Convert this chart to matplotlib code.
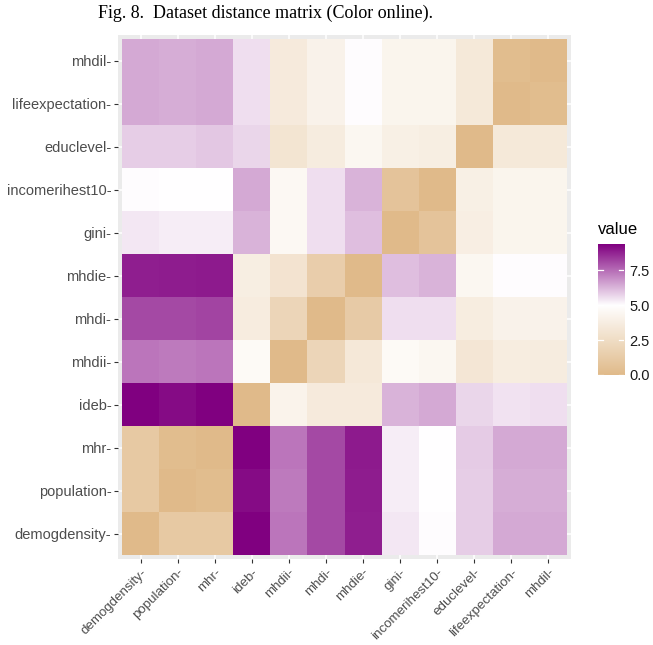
import numpy as np
import matplotlib
matplotlib.use("Agg")
import matplotlib.pyplot as plt
from matplotlib.colors import LinearSegmentedColormap, Normalize

labels = ["demogdensity", "population", "mhr", "ideb", "mhdii", "mhdi",
          "mhdie", "gini", "incomerihest10", "educlevel", "lifeexpectation", "mhdil"]

# one row per y-label (same column order as labels)
row_demogdensity   = [0.0, 1.1, 1.1, 9.4, 7.36, 8.14, 8.87, 5.43, 5.05, 5.85, 6.47, 6.47]
row_population     = [1.1, 0.0, 0.2, 9.2, 7.30, 8.14, 8.90, 5.30, 5.00, 5.85, 6.40, 6.40]
row_mhr            = [1.1, 0.2, 0.0, 9.4, 7.36, 8.14, 8.95, 5.30, 5.00, 5.90, 6.47, 6.47]
row_ideb           = [9.4, 9.2, 9.4, 0.0, 4.15, 3.50, 3.50, 6.30, 6.47, 5.70, 5.50, 5.55]
row_mhdii          = [7.36, 7.3, 7.36, 4.6, 0.0, 1.96, 3.35, 4.60, 4.40, 3.20, 3.70, 3.60]
row_mhdi           = [8.14, 8.14, 8.2, 3.66, 1.96, 0.0, 1.20, 5.55, 5.55, 3.70, 4.10, 4.10]
row_mhdie          = [8.87, 8.9, 8.95, 3.75, 3.0, 1.43, 0.0, 6.10, 6.30, 4.40, 5.05, 5.05]
row_gini           = [5.43, 5.3, 5.3, 6.3, 4.5, 5.55, 6.1, 0.0, 0.67, 3.80, 4.25, 4.25]
row_incomerihest10 = [5.05, 5.0, 5.0, 6.47, 4.5, 5.55, 6.3, 0.67, 0.0, 3.90, 4.25, 4.25]
row_educlevel      = [5.86, 5.86, 5.95, 5.7, 3.1, 3.6, 4.4, 3.9, 3.75, 0.0, 3.40, 3.40]
row_lifeexpectation= [6.47, 6.4, 6.47, 5.55, 3.5, 4.1, 5.05, 4.25, 4.25, 3.4, 0.0, 0.2]
row_mhdil          = [6.47, 6.4, 6.47, 5.55, 3.5, 4.1, 5.05, 4.25, 4.25, 3.4, 0.2, 0.0]

rows = [row_demogdensity, row_population, row_mhr, row_ideb, row_mhdii, row_mhdi,
        row_mhdie, row_gini, row_incomerihest10, row_educlevel, row_lifeexpectation, row_mhdil]
M = np.array(rows)

legend_ticks = [0.0, 2.5, 5.0, 7.5]
title = "Fig. 8.  Dataset distance matrix (Color online)."

W, H = 653, 645
fig = plt.figure(figsize=(W/100, H/100), dpi=100)

low, mid, high = "#E0BA8A", "#FFFFFF", "#800080"
vmax = float(M.max())
cmap = LinearSegmentedColormap.from_list("dist", [(0, low), (5/vmax, mid), (1, high)])
norm = Normalize(0, vmax)

def box(x0, y0, x1, y1):
    return [x0/W, 1 - y1/H, (x1-x0)/W, (y1-y0)/H]

ax = fig.add_axes(box(118.3, 34.7, 570.7, 559.3))
ax.set_facecolor("#EBEBEB")
n = len(labels)
for k in range(n):
    ax.axvline(k, color="white", lw=1.1, zorder=0)
    ax.axhline(k, color="white", lw=1.1, zorder=0)
ax.pcolormesh(np.arange(n+1)-0.5, np.arange(n+1)-0.5, M, cmap=cmap, norm=norm, zorder=1)
ax.set_xlim(-0.6, n-0.4)
ax.set_ylim(-0.6, n-0.4)
for s in ax.spines.values():
    s.set_visible(False)
ax.set_xticks(range(n))
ax.set_yticks(range(n))
ax.set_xticklabels([l + "-" for l in labels], rotation=45, ha="right", va="top",
                   rotation_mode="anchor", fontsize=9.6, color="#4D4D4D", family="Liberation Sans")
ax.set_yticklabels([l + "-" for l in labels], fontsize=10.5, color="#4D4D4D", family="Liberation Sans")
ax.tick_params(length=3, width=0.8, color="#333333", pad=2)

# colorbar
cax = fig.add_axes(box(597.5, 244, 624, 375))
grad = np.linspace(0, vmax, 256).reshape(-1, 1)
cax.imshow(grad, aspect="auto", cmap=cmap, norm=norm, origin="lower",
           extent=[0, 1, 0, vmax])
cax.set_xlim(0, 1)
cax.set_ylim(0, vmax)
cax.set_xticks([])
cax.yaxis.tick_right()
cax.set_yticks(legend_ticks)
cax.set_yticklabels([f"{t:.1f}" for t in legend_ticks], fontsize=10.5, color="#1A1A1A",
                    family="Liberation Sans")
cax.tick_params(length=0, pad=4)
for t in legend_ticks:
    cax.plot([0, 0.2], [t, t], color="white", lw=0.9)
    cax.plot([0.8, 1], [t, t], color="white", lw=0.9)
for s in cax.spines.values():
    s.set_visible(False)

fig.text(597.5/W, 1 - 229/H, "value", fontsize=12, color="black", family="Liberation Sans",
         ha="left", va="center")
fig.text(265/W, 1 - 13/H, title, fontsize=13, family="Liberation Serif", ha="center", va="center")

fig.savefig("out.png", dpi=100)
